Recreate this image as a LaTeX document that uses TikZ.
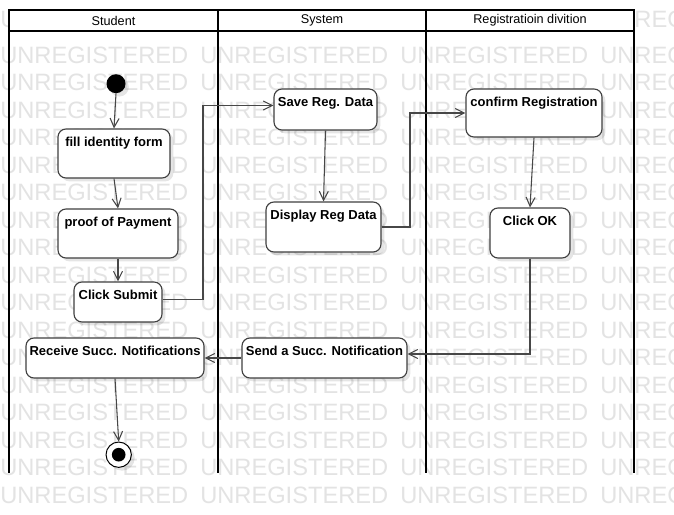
\documentclass[tikz,border=0pt]{standalone}
\usepackage{fontspec}
\setmainfont{Liberation Sans}
\usetikzlibrary{arrows.meta,shadows}
\begin{document}
\begin{tikzpicture}[x=0.75pt,y=-0.75pt,
  wm/.style={text=black!11, font=\fontsize{17.75pt}{20pt}\selectfont, inner sep=0pt, anchor=west},
  lane/.style={line width=1.5pt, draw=black},
  hdr/.style={font=\fontsize{9.5pt}{11pt}\selectfont, inner sep=0pt},
  shad/.style={drop shadow={shadow xshift=2.5pt, shadow yshift=-2.5pt, fill=black, opacity=0.1}},
  act/.style 2 args={draw=black!75, line width=0.85pt, fill=white, rounded corners=6pt, shad,
    inner sep=0pt, minimum width=#1, text height=12.75pt, text depth=#2,
    font=\bfseries\fontsize{9.75pt}{11pt}\selectfont},
  flow/.style={draw=black!72, line width=0.8pt, -{Straight Barb[length=6.75pt,width=6.75pt]}},
]
\useasboundingbox (0,0) rectangle (674,514);
\fill[white] (0,0) rectangle (674,514);

% watermark
\foreach \yy [count=\r] in {19,55,82.5,110,137.5,165,192.5,220,247.5,275,302.5,330,357.5,385,412.5,440,467.5,495} {
  \foreach \xx [count=\c] in {0,200,400,600} {
    \node[wm] (wm-\r-\c) at (\xx,\yy) {UNREGISTERED};
  }
}

% swimlanes
\fill[white] (9,10) rectangle (634,31);
\draw[lane] (9,473) -- (9,10) -- (634,10) -- (634,473);
\draw[lane] (9,31) -- (634,31);
\draw[lane] (218,10) -- (218,473);
\draw[lane] (426,10) -- (426,473);
\node[hdr] (h1) at (113.5,20.5) {Student};
\node[hdr] (h2) at (322,20.5) {System};
\node[hdr] (h3) at (530,20.5) {Registratioin divition};

% nodes
\node[circle, fill=black, minimum size=14.25pt, inner sep=0pt, shad] (init) at (116,83.7) {};
\node[act={84pt}{24pt}] (fill) at (114,153.5) {fill identity form};
\node[act={90pt}{24pt}] (proof) at (118,233.5) {proof of Payment};
\node[act={66pt}{17.25pt}] (submit) at (118,302) {Click Submit};
\node[act={77.25pt}{18pt}] (save) at (325.5,109.5) {Save Reg. Data};
\node[act={86.25pt}{24.75pt}] (display) at (323.5,227) {Display Reg Data};
\node[act={102pt}{23.25pt}] (confirm) at (534,113) {confirm Registration};
\node[act={60pt}{24.75pt}] (clickok) at (530,233) {Click OK};
\node[act={133.5pt}{17.25pt}] (receive) at (115,358) {Receive Succ. Notifications};
\node[act={123.75pt}{17.25pt}] (send) at (324.5,358) {Send a Succ. Notification};
\node[circle, draw=black, line width=0.75pt, fill=white, minimum size=19pt, inner sep=0pt, shad] (final) at (118.7,454.7) {};
\node[circle, fill=black, minimum size=10.25pt, inner sep=0pt] (finaldot) at (final.center) {};

% bend coordinates
\coordinate (b1) at (203,0);
\coordinate (b2) at (410,0);

% connectors
\draw[flow] (init.south) -- (fill.north);
\draw[flow] (fill.south) -- (proof.north);
\draw[flow] (proof.south) -- (submit.north);
\draw[flow] ([yshift=2pt]submit.east) -- ([yshift=2pt]submit.east -| b1) -- ([yshift=3pt]b1 |- save.west) -- ([yshift=3pt]save.west);
\draw[flow] (save.south) -- (display.north);
\draw[flow] (display.east) -- (display.east -| b2) -- (b2 |- confirm.west) -- (confirm.west);
\draw[flow] (confirm.south) -- (clickok.north);
\draw[flow] (clickok.south) -- ([yshift=3pt]clickok.south |- send.east) -- ([yshift=3pt]send.east);
\draw[flow] (send.west) -- (receive.east);
\draw[flow] (receive.south) -- (final.north);
\end{tikzpicture}
\end{document}
